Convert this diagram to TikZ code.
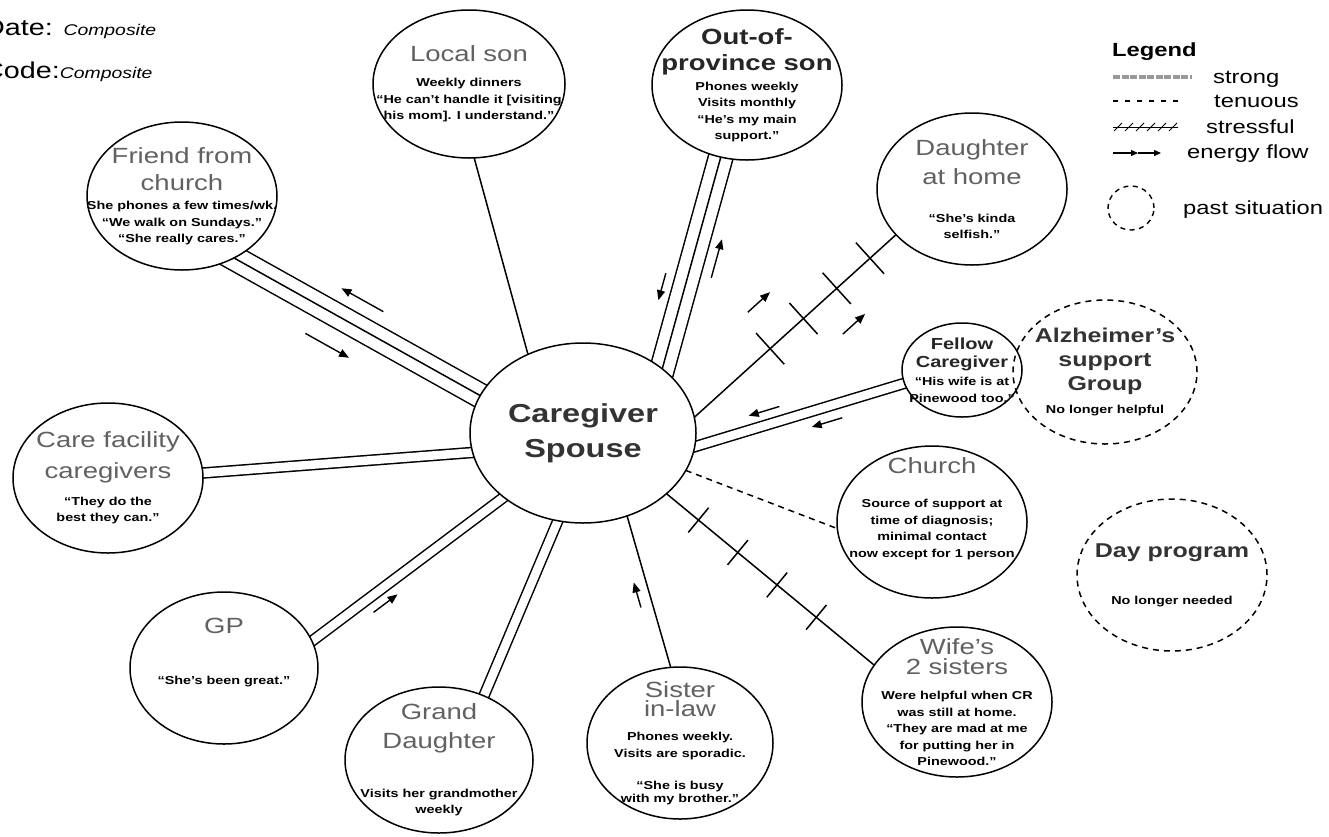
\documentclass[tikz,border=0pt]{standalone}
\usepackage{fontspec}
\setmainfont{Liberation Sans}[FakeStretch=1.25]
\usepackage{tikz}
\usetikzlibrary{arrows.meta,backgrounds,shapes.geometric,decorations.markings}

\newcommand{\notefont}{\bfseries\fontsize{11.5}{16.5}\selectfont}
\newcommand{\namefont}{\mdseries\fontsize{22}{26}\selectfont\color{black!62}}
\newcommand{\boldname}{\bfseries\fontsize{22}{26}\selectfont\color{black!85}}
\newcommand{\fellowfont}{\bfseries\fontsize{16}{19}\selectfont\color{black!85}}
\newcommand{\pastfont}{\bfseries\fontsize{20}{24}\selectfont\color{black!80}}
\newcommand{\legendfont}{\fontsize{19}{22}\selectfont}

\begin{document}
\begin{tikzpicture}[x=1pt, y=-1pt,
	person/.style={draw, ellipse, fill=white, line width=1.5pt, minimum width=190pt, minimum height=150pt,
		inner xsep=-80pt, inner ysep=-50pt, outer sep=0pt, align=center, font=\notefont},
	past/.style={person, fill=none, dash pattern=on 6pt off 5pt},
	link/.style={line width=1.5pt},
	strong/.style={link, double, double distance=8.5pt, shorten <=-8pt, shorten >=-8pt},
	stronger/.style={link, double, double distance=23pt, shorten <=-12pt, shorten >=-12pt},
	tenuous/.style={link, dash pattern=on 6pt off 5pt},
	hatched/.style n args={4}{link, postaction={decorate, decoration={markings,
		mark=between positions #1 and #2 step #3 with {\draw[link] (0,-#4) -- (0,#4);}}}},
	flow/.style={line width=1.4pt, -{Triangle[length=10pt, width=8pt]}},
	gives/.style n args={3}{postaction={decorate, decoration={markings,
		mark=at position #1 with {\draw[flow] (-#3,#2) -- (#3,#2);}}}},
	gets/.style n args={3}{postaction={decorate, decoration={markings,
		mark=at position #1 with {\draw[flow] (#3,#2) -- (-#3,#2);}}}},
	legtext/.style={anchor=base west, inner sep=0pt, font=\legendfont}]

	\useasboundingbox (0,0) rectangle (1329,836);

	% Header
	\node[anchor=base west, inner sep=0pt, font=\fontsize{23}{26}\selectfont] (date) at (-16,35)
		{Date: {\itshape\fontsize{15.5}{18}\selectfont Composite}};
	\node[anchor=base west, inner sep=0pt, font=\fontsize{23}{26}\selectfont] (code) at (-17,78)
		{Code:{\itshape\fontsize{15.5}{18}\selectfont Composite}};

	% Centre
	\node[person, minimum width=226pt, minimum height=180pt,
		font=\bfseries\fontsize{26}{33}\selectfont\color{black!80}] (cs) at (583,433) {Caregiver\\[2pt]Spouse};

	% Network
	\node[person, minimum width=192pt, minimum height=148pt] (ls) at (469,84)
		{{\namefont Local son}\\[8.5pt]Weekly dinners\\``He can't handle it [visiting\\his mom]. I understand.''};
	\node[person] (op) at (747,85)
		{{\boldname Out-of-}\\[9.5pt]{\boldname province son}\\[3.5pt]Phones weekly\\Visits monthly\\``He's my main\\support.''};
	\node[person, minimum height=148pt] (fc) at (182,196)
		{{\namefont Friend from}\\[11pt]{\namefont church}\\[2.5pt]She phones a few times/wk.\\``We walk on Sundays.''\\``She really cares.''};
	\node[person, minimum height=152pt] (dh) at (972,189)
		{{\namefont Daughter}\\[7.5pt]{\namefont at home}\\[21.5pt]``She's kinda\\selfish.''};
	\node[person, minimum width=120pt, minimum height=94pt] (fg) at (962,370)
		{{\fellowfont Fellow}\\[1.5pt]{\fellowfont Caregiver}\\[1.5pt]``His wife is at\\Pinewood too.''};
	\node[past, minimum width=184pt, minimum height=144pt] (az) at (1105,372)
		{{\pastfont Alzheimer's}\\[7.5pt]{\pastfont support}\\[5.5pt]{\pastfont Group}\\[6.5pt]No longer helpful};
	\node[person, minimum height=152pt] (ch) at (932,522)
		{{\namefont Church}\\[17.5pt]Source of support at\\time of diagnosis;\\minimal contact\\now except for 1 person\\[12pt]\mbox{}};
	\node[past, minimum height=152pt] (dp) at (1172,575)
		{{\pastfont Day program}\\[30.5pt]No longer needed};
	\node[person] (ws) at (957,702)
		{{\namefont Wife's}\\[4pt]{\namefont 2 sisters}\\[8.5pt]Were helpful when CR\\was still at home.\\``They are mad at me\\for putting her in\\Pinewood.''};
	\node[person, minimum width=186pt, minimum height=152pt] (si) at (680,743)
		{{\namefont Sister}\\[3pt]{\namefont in-law}\\[7.5pt]Phones weekly.\\Visits are sporadic.\\[15.5pt]``She is busy\\[-3.5pt]with my brother.''};
	\node[person, minimum width=188pt, minimum height=146pt] (gd) at (439,760)
		{{\namefont Grand}\\[12pt]{\namefont Daughter}\\[32.5pt]Visits her grandmother\\weekly};
	\node[person, minimum width=188pt, minimum height=152pt] (gp) at (224,668)
		{{\namefont GP}\\[34.5pt]``She's been great.''\\[17pt]\mbox{}};
	\node[person] (cf) at (108,478)
		{{\namefont Care facility}\\[9pt]{\namefont caregivers}\\[10.5pt]``They do the\\best they can.''};

	% Ties
	\begin{scope}[on background layer]
		\draw[link] (cs.125) -- (ls.-86);
		\draw[stronger] (cs.39) -- (op.-110);
		\draw[link] (cs.39) -- (op.-110);
		\draw[stronger] (cs.160) -- (fc.-50);
		\draw[link] (cs.160) -- (fc.-50);
		\draw[hatched={0.376}{0.88}{0.165}{21pt}] (cs.8) -- (dh.-149);
		\draw[strong] (cs.-7) -- (fg.-167);
		\draw[tenuous] (cs.-20) -- (ch.-176);
		\draw[hatched={0.154}{0.73}{0.189}{16pt}] (cs.-36) -- (ws.156);
		\draw[link] (cs.-62) -- (si.97);
		\draw[strong] (cs.-106) -- (gd.55);
		\draw[strong] (cs.-141) -- (gp.17);
		\draw[strong] (cs.-170) -- (cf.3);
	\end{scope}

	% Energy flow
	\path[gets={0.56}{31pt}{25pt}, gives={0.53}{-26pt}{24pt}] (cs.160) -- (fc.-50);
	\path[gets={0.36}{22pt}{14pt}, gives={0.55}{-23pt}{20pt}] (cs.39) -- (op.-110);
	\path[gives={0.46}{42pt}{15pt}, gives={0.665}{-38pt}{15pt}] (cs.8) -- (dh.-149);
	\path[gets={0.35}{14pt}{16pt}, gets={0.61}{-15pt}{16pt}] (cs.-7) -- (fg.-167);
	\path[gets={0.66}{14pt}{15pt}] (cs.-141) -- (gp.17);
	\path[gets={0.5}{-12pt}{13pt}] (cs.-62) -- (si.97);

	% Legend
	\node[legtext, font=\legendfont\bfseries] (legend) at (1112,56) {Legend};
	\draw[line width=4.5pt, black!40, dash pattern=on 7pt off 1.5pt] (1113,77) -- (1192,77);
	\node[legtext] (l-strong) at (1213,83) {strong};
	\draw[line width=1.3pt, dash pattern=on 5pt off 7pt] (1113,101) -- (1181,101);
	\node[legtext] (l-tenuous) at (1214,107) {tenuous};
	\draw[line width=1pt] (1113,127) -- (1178,127);
	\foreach \x in {1118,1129,...,1173}
		\draw[line width=1pt] (\x-4,131) -- (\x+4,123);
	\node[legtext] (l-stressful) at (1206,133) {stressful};
	\draw[line width=1.2pt, -{Triangle[length=7pt, width=6pt]}] (1113,153) -- (1138,153);
	\draw[line width=1.2pt, -{Triangle[length=7pt, width=6pt]}] (1138,153) -- (1161,153);
	\node[legtext] (l-flow) at (1187,158) {energy flow};
	\draw[line width=1.4pt, dash pattern=on 5pt off 4.5pt] (1131,208) ellipse [x radius=23pt, y radius=22pt];
	\node[legtext] (l-past) at (1183,214) {past situation};
\end{tikzpicture}
\end{document}
